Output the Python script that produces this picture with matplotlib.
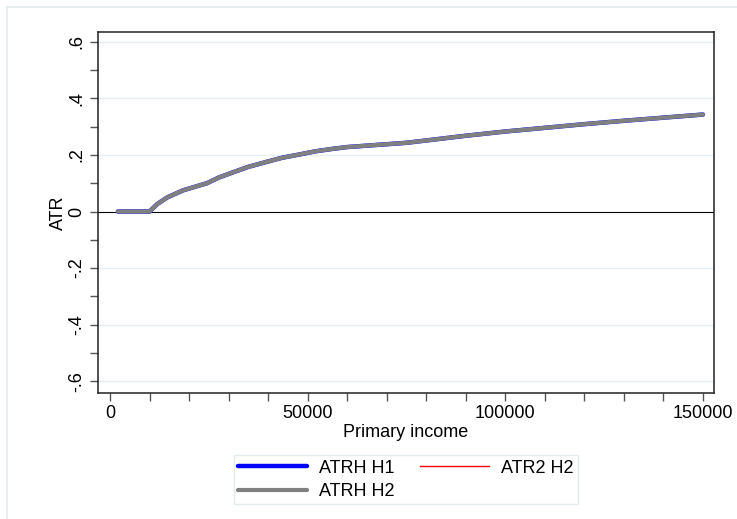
import matplotlib
matplotlib.use("Agg")
import matplotlib.pyplot as plt
from matplotlib.lines import Line2D
from matplotlib.ticker import FixedLocator, MultipleLocator

plt.rcParams["font.family"] = ["Liberation Sans", "DejaVu Sans"]

# Average tax rate by primary income (three schedules coincide)
income = [2000, 10000, 12000, 14500, 18500, 24500, 27500, 31000, 35000,
          40000, 43500, 48000, 52000, 56500, 60000, 65000, 70000, 75000,
          90000, 100000, 110000, 120000, 130000, 140000, 150000]
atrh_h1 = [0.0, 0.0, 0.027, 0.05, 0.075, 0.10, 0.12, 0.138, 0.158,
           0.177, 0.19, 0.202, 0.213, 0.222, 0.228, 0.233, 0.238, 0.243,
           0.268, 0.283, 0.296, 0.309, 0.321, 0.332, 0.343]
atr2_h2 = list(atrh_h1)
atrh_h2 = list(atrh_h1)

y_ticks = [-0.6, -0.4, -0.2, 0.0, 0.2, 0.4, 0.6]
y_labels = ["-.6", "-.4", "-.2", "0", ".2", ".4", ".6"]
x_ticks = [0, 50000, 100000, 150000]

FS = 13
GRID = "#e6eef1"

fig = plt.figure(figsize=(7.37, 5.19), dpi=100)
ax = fig.add_axes([98 / 737, 1 - 393 / 519, (714 - 98) / 737, (393 - 32) / 519])

# outer graph-region outline (top and left edges only in view)
fig.add_artist(Line2D([7 / 737, 1.0], [1 - 7 / 519] * 2, color="#e4eaee", lw=1.2))
fig.add_artist(Line2D([7 / 737] * 2, [0.0, 1 - 7 / 519], color="#e4eaee", lw=1.2))

for yv in y_ticks:
    if yv != 0:
        ax.axhline(yv, color=GRID, lw=1.0, zorder=0)
ax.axhline(0, color="black", lw=0.8, zorder=1)

l1, = ax.plot(income, atrh_h1, color="#0000ff", lw=3.2, solid_capstyle="round", zorder=2)
l2, = ax.plot(income, atr2_h2, color="red", lw=1.0, zorder=3)
l3, = ax.plot(income, atrh_h2, color="#808080", lw=3.0, solid_capstyle="round", zorder=4)

ax.set_xlim(-3040, 152800)
ax.set_ylim(-0.642, 0.635)

ax.xaxis.set_major_locator(FixedLocator(x_ticks))
ax.xaxis.set_minor_locator(MultipleLocator(10000))
ax.set_xticklabels([str(v) for v in x_ticks])
ax.yaxis.set_major_locator(FixedLocator(y_ticks))
ax.yaxis.set_minor_locator(MultipleLocator(0.1))
ax.set_yticklabels(y_labels, rotation=90, va="center")

ax.tick_params(which="both", direction="out", length=6, width=1, color="#555555",
               labelsize=FS, pad=3)
for side in ["top", "right", "bottom", "left"]:
    ax.spines[side].set_color("#222222")
    ax.spines[side].set_linewidth(1.1)

ax.set_xlabel("Primary income", fontsize=FS, labelpad=1)
ax.set_ylabel("ATR", fontsize=FS, labelpad=1)

leg = fig.legend([l1, l3, l2], ["ATRH H1", "ATRH H2", "ATR2 H2"], ncol=2,
                 loc="upper center", bbox_to_anchor=(406 / 737, 1 - 446 / 519),
                 fontsize=FS, frameon=True, fancybox=False, handlelength=3.8,
                 handletextpad=0.7, columnspacing=1.4, labelspacing=0.35,
                 borderpad=0.25, edgecolor="#dde7ea")
leg.get_frame().set_linewidth(1.0)

fig.savefig("out.png", dpi=100)
